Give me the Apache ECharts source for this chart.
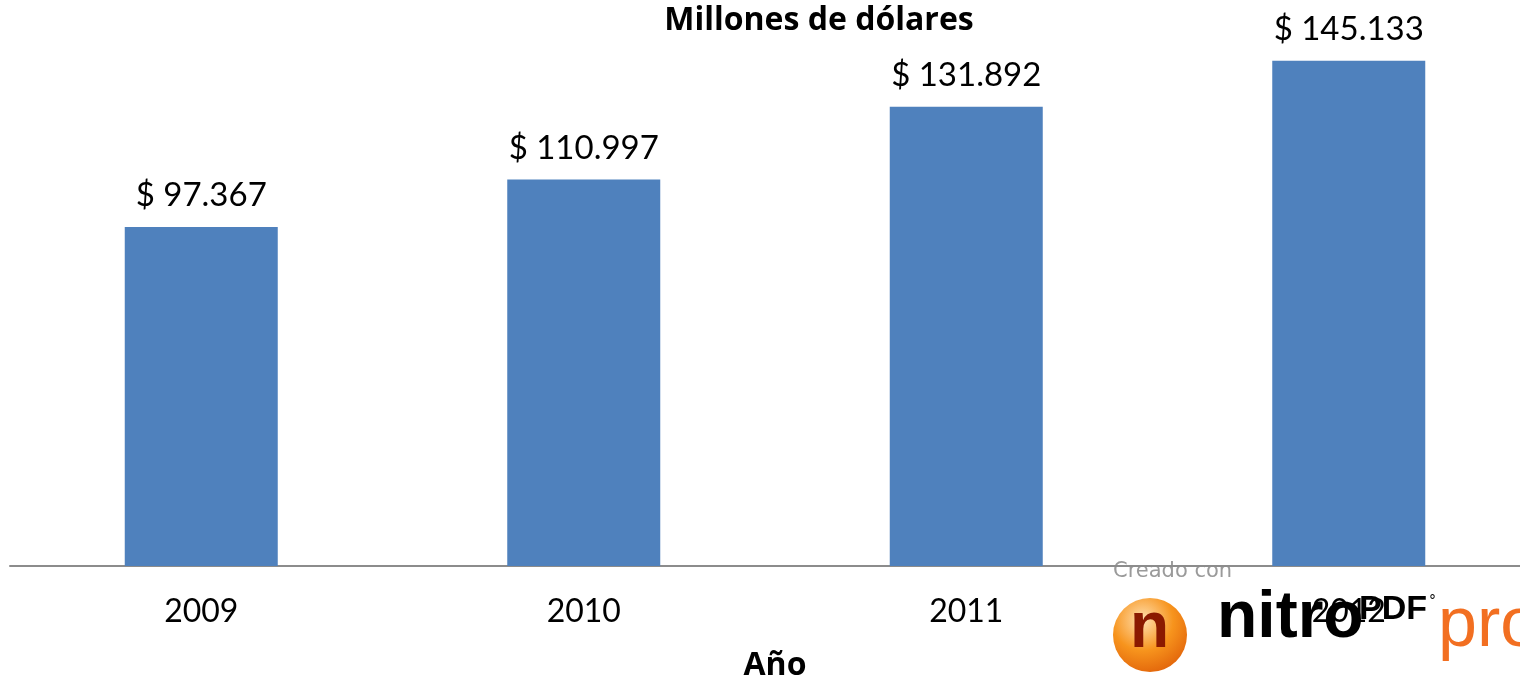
<!DOCTYPE html>
<html><head><meta charset="utf-8">
<script src="https://cdn.jsdelivr.net/npm/echarts@6/dist/echarts.min.js"></script>
<style>html,body{margin:0;padding:0;background:#fff}#c{width:1520px;height:681px}</style>
</head><body><div id="c"></div>
<script>
const categories = ['2009', '2010', '2011', '2012'];
const values = [97367, 110997, 131892, 145133];
const titleText = 'Millones de dólares';
const xAxisName = 'Año';

function fmt(v) {
  return '$ ' + String(v).replace(/\B(?=(\d{3})+(?!\d))/g, '.');
}

const chart = echarts.init(document.getElementById('c'));
chart.setOption({
  animation: false,
  backgroundColor: '#fff',
  textStyle: { fontFamily: 'Lato' },
  title: {
    text: titleText, left: 814, top: 0, textAlign: 'center',
    textStyle: { fontFamily: 'Open Sans', fontWeight: 'bold', fontSize: 32, color: '#000' }
  },
  grid: { left: 10, width: 1530, top: 9, height: 557, outerBoundsMode: 'none', containLabel: false },
  xAxis: {
    type: 'category', data: categories,
    axisLine: { lineStyle: { color: '#8c8c8c', width: 2 } },
    axisTick: { show: false },
    axisLabel: { color: '#000', fontSize: 32, fontFamily: 'Lato', margin: 30 },
    name: xAxisName, nameLocation: 'middle', nameGap: 84,
    nameTextStyle: { fontFamily: 'Open Sans', fontWeight: 'bold', fontSize: 32, color: '#000' }
  },
  yAxis: { type: 'value', min: 0, max: 160000, show: false, splitLine: { show: false } },
  series: [{
    type: 'bar', data: values, barWidth: '40%',
    itemStyle: { color: '#4f81bd' },
    label: {
      show: true, position: 'top', distance: 15,
      color: '#000', fontSize: 33, fontFamily: 'Lato',
      formatter: p => fmt(p.value)
    }
  }],
  graphic: [
    { type: 'text', left: 1113, top: 561, style: { text: 'Creado con', fontFamily: 'DejaVu Sans', fontSize: 21, fill: '#9a9a9a' } },
    { type: 'circle', shape: { cx: 1150, cy: 635, r: 37 }, style: { fill: new echarts.graphic.RadialGradient(0.4, 0.3, 0.75, [{ offset: 0, color: '#ffe0b0' }, { offset: 0.55, color: '#f7941d' }, { offset: 1, color: '#e2640a' }]) } },
    { type: 'text', left: 1130, top: 597, style: { text: 'n', fontFamily: 'Liberation Sans', fontWeight: 'bold', fontSize: 64, fill: '#8b1a00' } },
    { type: 'text', left: 1217, top: 586, style: { text: 'nitro', fontFamily: 'Liberation Sans', fontWeight: 'bold', fontSize: 66, fill: '#000' } },
    { type: 'text', left: 1359, top: 593, style: { text: 'PDF', fontFamily: 'Liberation Sans', fontWeight: 'bold', fontSize: 34, fill: '#000' } },
    { type: 'text', left: 1429, top: 594, style: { text: '°', fontFamily: 'DejaVu Sans', fontSize: 14, fill: '#000' } },
    { type: 'text', left: 1438, top: 592, style: { text: 'pro', fontFamily: 'Liberation Sans', fontSize: 70, fill: '#f26f21' } }
  ]
});
</script></body></html>
